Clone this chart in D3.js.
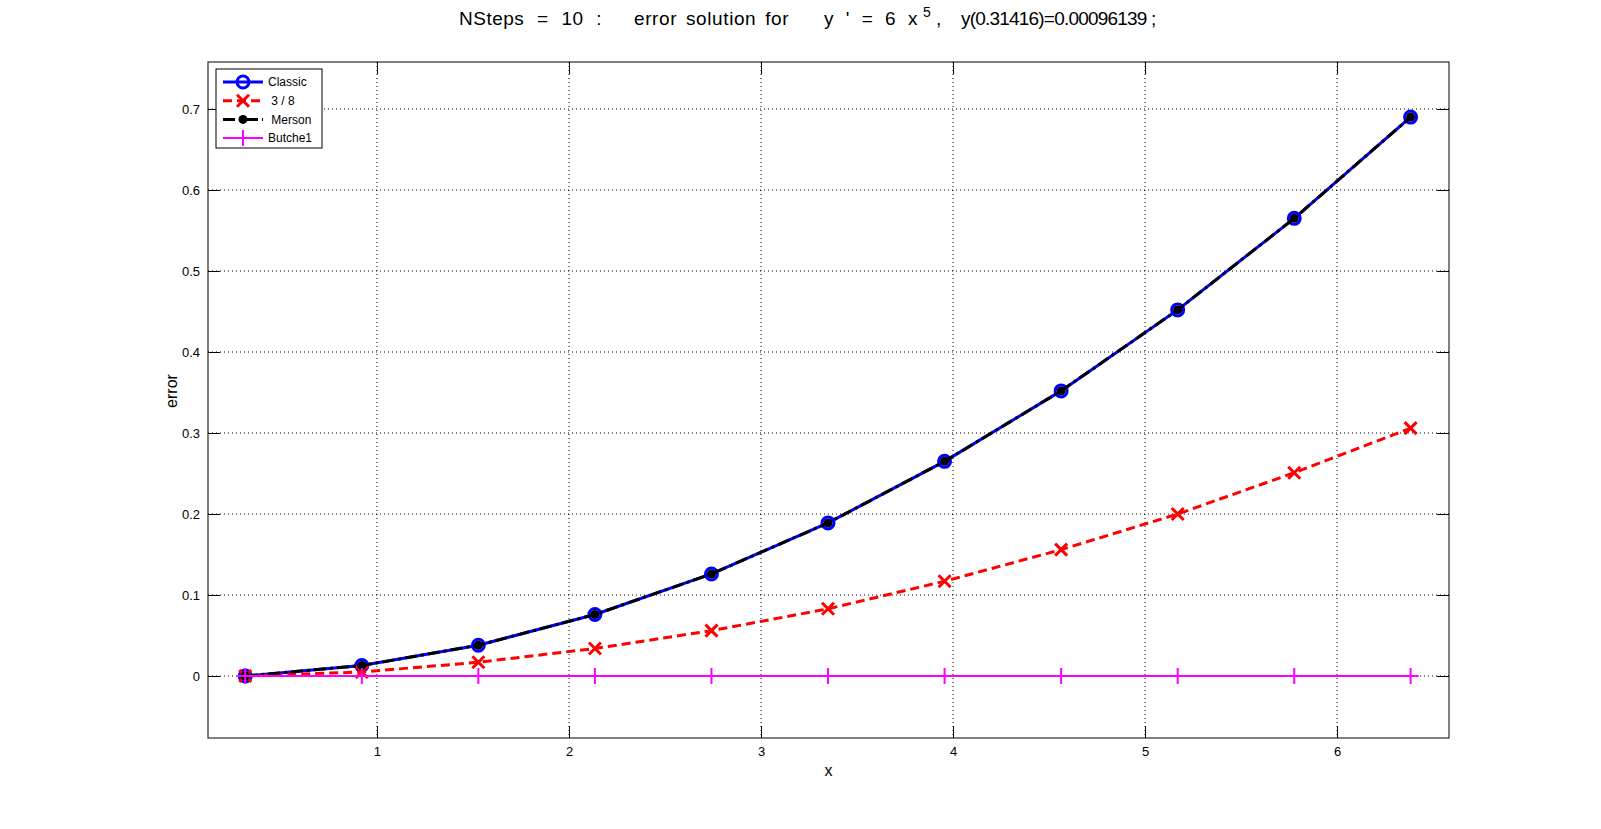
<!DOCTYPE html>
<html>
<head>
<meta charset="utf-8">
<script src="https://cdn.jsdelivr.net/npm/d3@7"></script>
<style>
  body { margin: 0; background: #fff; }
  text { font-family: "Liberation Sans", Arial, sans-serif; fill: #000; }
</style>
</head>
<body>
<svg id="chart"></svg>
<script>
// data
const xValues = [0.314, 0.921, 1.528, 2.135, 2.742, 3.349, 3.956, 4.563, 5.170, 5.777, 6.383];
const classic = [0, 0.013, 0.038, 0.076, 0.126, 0.189, 0.265, 0.352, 0.452, 0.565, 0.690];
const threeEight = [0, 0.005, 0.017, 0.034, 0.056, 0.083, 0.117, 0.156, 0.200, 0.251, 0.306];
const merson = [0, 0.013, 0.038, 0.076, 0.126, 0.189, 0.265, 0.352, 0.452, 0.565, 0.690];
const butcher = [0, 0, 0, 0, 0, 0, 0, 0, 0, 0, 0];
const legendLabels = ["Classic", " 3 / 8", " Merson", "Butche1"];
const xTicks = [1, 2, 3, 4, 5, 6];
const yTicks = [0, 0.1, 0.2, 0.3, 0.4, 0.5, 0.6, 0.7];

const W = 1601, H = 829;
const margin = { top: 62, right: 152, bottom: 91, left: 208 };
const width = W - margin.left - margin.right;
const height = H - margin.top - margin.bottom;

const svg = d3.select("#chart").attr("width", W).attr("height", H);
const g = svg.append("g").attr("transform", `translate(${margin.left},${margin.top})`);

const x = d3.scaleLinear().domain([0.12, 6.583]).range([0, width]);
const y = d3.scaleLinear().domain([-0.0765, 0.758]).range([height, 0]);

// dotted grid
g.append("g")
  .selectAll("line")
  .data(xTicks)
  .enter()
  .append("line")
  .attr("x1", (d) => x(d)).attr("x2", (d) => x(d))
  .attr("y1", 0).attr("y2", height)
  .attr("stroke", "#000").attr("stroke-dasharray", "1,3");
g.append("g")
  .selectAll("line")
  .data(yTicks)
  .enter()
  .append("line")
  .attr("y1", (d) => y(d)).attr("y2", (d) => y(d))
  .attr("x1", 0).attr("x2", width)
  .attr("stroke", "#000").attr("stroke-dasharray", "1,3");

// axes, ticks inside, box on
const tickLen = 12;
const xAxisB = d3.axisBottom(x).tickValues(xTicks).tickSize(-tickLen).tickPadding(9).tickFormat(d3.format("d"));
const xAxisT = d3.axisTop(x).tickValues(xTicks).tickSize(-tickLen).tickFormat("");
const yAxisL = d3.axisLeft(y).tickValues(yTicks).tickSize(-tickLen).tickPadding(8).tickFormat((d) => (d === 0 ? "0" : d3.format(".1f")(d)));
const yAxisR = d3.axisRight(y).tickValues(yTicks).tickSize(-tickLen).tickFormat("");

function styleAxis(sel) {
  sel.select(".domain").remove();
  sel.selectAll("line").attr("stroke", "#000");
  sel.selectAll("text").attr("font-size", "13px").attr("font-family", '"Liberation Sans", Arial, sans-serif');
}
g.append("g").attr("transform", `translate(0,${height})`).call(xAxisB).call(styleAxis);
g.append("g").call(xAxisT).call(styleAxis);
g.append("g").call(yAxisL).call(styleAxis);
g.append("g").attr("transform", `translate(${width},0)`).call(yAxisR).call(styleAxis);

g.append("rect")
  .attr("width", width).attr("height", height)
  .attr("fill", "none").attr("stroke", "#000").attr("stroke-width", 1);

// series
const line = d3.line().x((d) => x(d[0])).y((d) => y(d[1]));
const pts = (vals) => xValues.map((xv, i) => [xv, vals[i]]);

const plot = g.append("g");

function drawMarker(sel, type, color, px, py) {
  if (type === "o") {
    sel.append("circle").attr("cx", px).attr("cy", py).attr("r", 6)
      .attr("fill", "none").attr("stroke", color).attr("stroke-width", 3);
  } else if (type === "x") {
    const s = 6;
    sel.append("path")
      .attr("d", `M${px - s},${py - s}L${px + s},${py + s}M${px - s},${py + s}L${px + s},${py - s}`)
      .attr("stroke", color).attr("stroke-width", 3);
  } else if (type === ".") {
    sel.append("circle").attr("cx", px).attr("cy", py).attr("r", 4.5).attr("fill", color);
  } else if (type === "+") {
    const s = 8;
    sel.append("path")
      .attr("d", `M${px - s},${py}L${px + s},${py}M${px},${py - s}L${px},${py + s}`)
      .attr("stroke", color).attr("stroke-width", 2);
  }
}

const series = [
  { vals: classic, color: "#0000ff", width: 3, dash: null, marker: "o" },
  { vals: threeEight, color: "#ff0000", width: 3, dash: "9,5", marker: "x" },
  { vals: merson, color: "#000000", width: 3, dash: "12,4,3,4", marker: "." },
  { vals: butcher, color: "#ff00ff", width: 2, dash: null, marker: "+" },
];

series.forEach((s) => {
  plot.append("path")
    .datum(pts(s.vals))
    .attr("d", line)
    .attr("fill", "none")
    .attr("stroke", s.color)
    .attr("stroke-width", s.width)
    .attr("stroke-dasharray", s.dash);
  const mk = plot.append("g");
  pts(s.vals).forEach((p) => drawMarker(mk, s.marker, s.color, x(p[0]), y(p[1])));
});

// legend
const leg = g.append("g").attr("transform", "translate(8,7)");
leg.append("rect").attr("width", 106).attr("height", 79)
  .attr("fill", "#fff").attr("stroke", "#000");
series.forEach((s, i) => {
  const ly = 13 + i * 18.7;
  leg.append("line")
    .attr("x1", 7).attr("x2", 47).attr("y1", ly).attr("y2", ly)
    .attr("stroke", s.color).attr("stroke-width", s.width)
    .attr("stroke-dasharray", s.dash);
  drawMarker(leg, s.marker, s.color, 27, ly);
  leg.append("text")
    .attr("x", 52).attr("y", ly).attr("dy", "0.35em")
    .attr("font-size", "12px")
    .style("white-space", "pre")
    .text(legendLabels[i]);
});

// axis labels
svg.append("text")
  .attr("x", margin.left + width / 2).attr("y", 776)
  .attr("text-anchor", "middle").attr("font-size", "16px")
  .text("x");
svg.append("text")
  .attr("transform", `translate(177,${391}) rotate(-90)`)
  .attr("text-anchor", "middle").attr("font-size", "16px")
  .text("error");

// title, pieces placed where they sit in the reference
const titleY = 25;
const titleParts = [
  { text: "NSteps = 10 :", x: 459, ws: 7, ls: 0.5 },
  { text: "error solution for", x: 634, ws: 3, ls: 0.6 },
  { text: "y ' = 6 x", x: 824, ws: 7, ls: 0 },
  { text: ",", x: 936, ws: 0, ls: 0 },
  { text: "y(0.31416)=0.00096139 ;", x: 961, ws: 0, ls: -0.8 },
];
titleParts.forEach((p) => {
  svg.append("text")
    .attr("x", p.x).attr("y", titleY)
    .attr("font-size", "19px")
    .style("word-spacing", `${p.ws}px`)
    .style("letter-spacing", `${p.ls}px`)
    .text(p.text);
});
svg.append("text")
  .attr("x", 923).attr("y", titleY - 8)
  .attr("font-size", "14px")
  .text("5");
</script>
</body>
</html>
